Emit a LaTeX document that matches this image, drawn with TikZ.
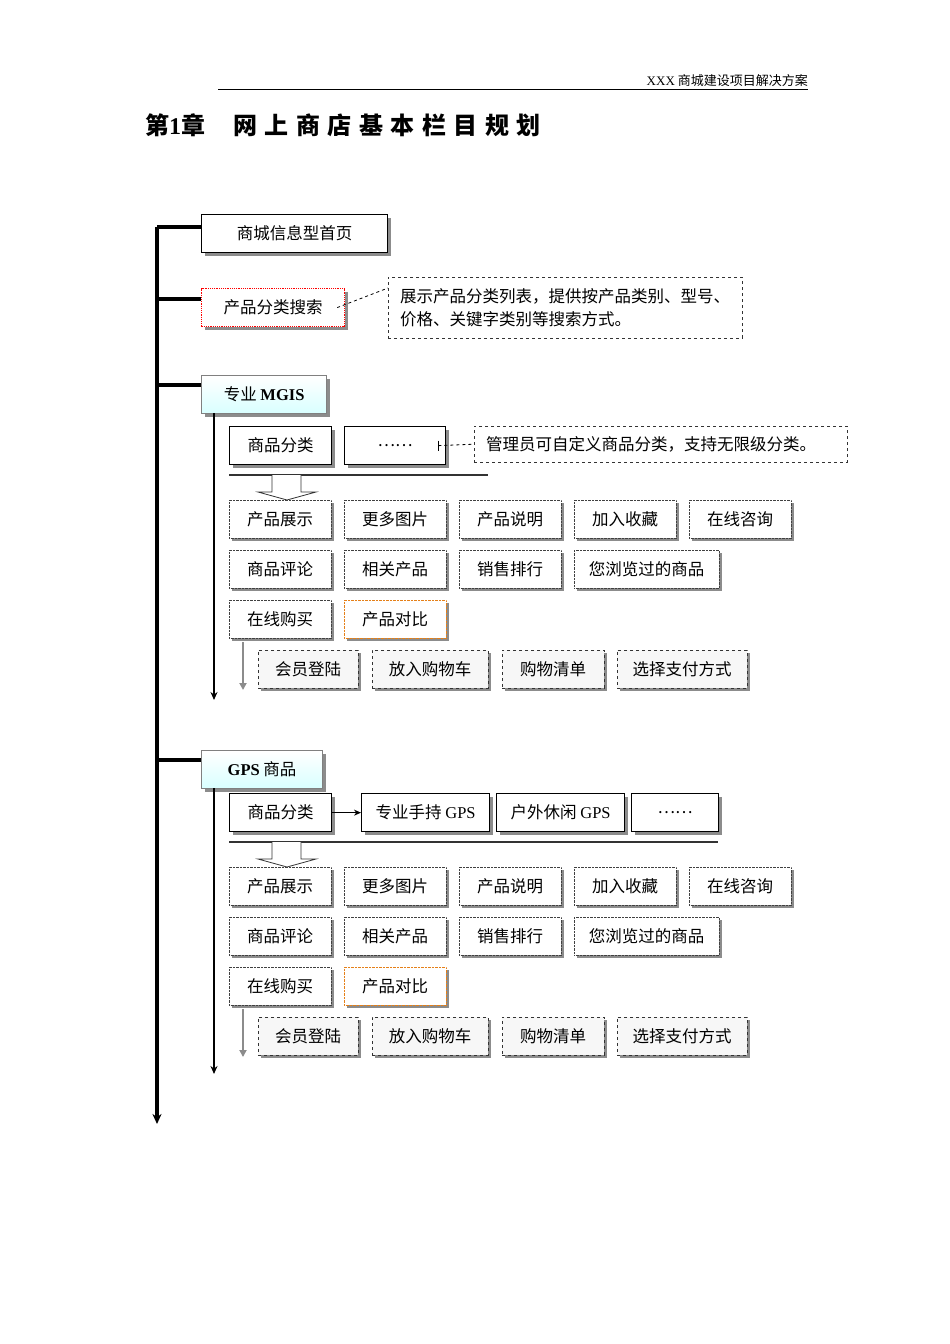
\documentclass[tikz,border=0pt]{standalone}
\usepackage{fontspec}
\setmainfont{Noto Sans CJK SC}
\newfontfamily\lat{Liberation Serif}
\usetikzlibrary{shadows,arrows.meta}
\tikzset{
 bx/.style={anchor=north west,draw,inner sep=0pt,font=\fontsize{16.5}{19}\selectfont,fill=white},
 sh/.style={drop shadow={shadow xshift=3pt,shadow yshift=-3pt,fill=black!45,opacity=1}},
 gbox/.style={bx,sh,densely dotted,draw=black!75,minimum height=38pt},
 pbox/.style={bx,sh,dashed,draw=black!80,fill=black!3,minimum height=38pt},
 sbox/.style={bx,sh,line width=1.3pt,minimum height=38pt},
 note/.style={bx,dashed,draw=black!80,align=left,font=\fontsize{16.5}{23}\selectfont},
 trunk/.style={line width=3.2pt},
 sub/.style={line width=2pt}
}
\newcommand\grid[3]{%
 \begin{scope}[yshift=-#2pt]
 \draw[line width=1.8pt,black!80] (229,475) coordinate (#1l0) -- (#3,475) coordinate (#1l1);
 \draw[black!80,line width=0.8pt,fill=white] (272,475)--(272,492)--(258,492)--(287,500)--(316,492)--(301,492)--(301,475);
 \foreach \x/\w/\t/\n in {229/102/产品展示/a1,344/102/更多图片/a2,459/102/产品说明/a3,574/102/加入收藏/a4,689/102/在线咨询/a5}
   \node[gbox,minimum width=\w pt] (#1\n) at (\x,500) {\t};
 \foreach \x/\w/\t/\n in {229/102/商品评论/b1,344/102/相关产品/b2,459/102/销售排行/b3,574/145/您浏览过的商品/b4}
   \node[gbox,minimum width=\w pt] (#1\n) at (\x,550) {\t};
 \node[gbox,minimum width=102pt] (#1c1) at (229,600) {在线购买};
 \node[gbox,minimum width=102pt,draw=orange!60!brown] (#1c2) at (344,600) {产品对比};
 \foreach \x/\w/\t/\n in {258/100/会员登陆/d1,372/116/放入购物车/d2,502/102/购物清单/d3,617/130/选择支付方式/d4}
   \node[pbox,minimum width=\w pt] (#1\n) at (\x,650) {\t};
 \coordinate (#1g0) at (243,642);
 \coordinate (#1g1) at (243,690);
 \draw[black!45,line width=1.8pt,-{Triangle[length=7pt,width=7pt]}] (#1g0) -- (#1g1);
 \end{scope}}
\begin{document}
\begin{tikzpicture}[x=1pt,y=-1pt]
\useasboundingbox[fill=white] (0,0) rectangle (950,1344);
% header
\draw[line width=0.8pt] (218,89) coordinate (h0) -- (808,89) coordinate (h1);
\node[anchor=base east,font=\fontsize{13}{15}\selectfont,inner sep=0pt] (hdr) at (808,85) {{\lat XXX} 商城建设项目解决方案};
\node[anchor=base west,font=\fontsize{24}{28}\selectfont\bfseries,inner sep=0pt] (title) at (145,134) {第{\lat 1}章\hspace{28pt}网\hspace{7.5pt}上\hspace{7.5pt}商\hspace{7.5pt}店\hspace{7.5pt}基\hspace{7.5pt}本\hspace{7.5pt}栏\hspace{7.5pt}目\hspace{7.5pt}规\hspace{7.5pt}划};
% trunk
\coordinate (t0) at (157,227);
\coordinate (t1) at (157,1124);
\draw[trunk,-{Stealth[length=10pt,width=9pt]}] (t0) -- (t1);
\node[sbox,minimum width=186pt] (home) at (201,214) {商城信息型首页};
\node[bx,sh,draw=red,densely dotted,line width=1.2pt,minimum width=143pt,minimum height=38pt] (search) at (201,288) {产品分类搜索};
\node[note,minimum width=344pt,minimum height=61pt,inner xsep=12pt,text width=330pt] (n1) at (388,277) {展示产品分类列表，提供按产品类别、型号、\\价格、关键字类别等搜索方式。};
\draw[dashed,line width=0.8pt] (search.east) ++(-8,0) coordinate (sx) -- (n1.west |- 0,288);
\node[bx,sh,draw=black!50,line width=1.2pt,top color=white,bottom color=cyan!15,minimum width=125pt,minimum height=38pt] (mgis) at (201,375) {专业 {\lat\bfseries MGIS}};
\node[bx,sh,draw=black!50,line width=1.2pt,top color=white,bottom color=cyan!15,minimum width=121pt,minimum height=38pt] (gps) at (201,750) {{\lat\bfseries GPS} 商品};
\foreach \n/\y in {home/227,search/299,mgis/385,gps/760} \draw[trunk] (\n.west |- 0,\y) -- (157,\y);
% MGIS section
\coordinate (m0) at (214,413);
\coordinate (m1) at (214,700);
\draw[sub,-{Stealth[length=8pt,width=7pt]}] (m0) -- (m1);
\node[sbox,minimum width=102pt] (mk) at (229,426) {商品分类};
\node[sbox,minimum width=101pt] (md) at (344,426) {……};
\node[note,minimum width=373pt,minimum height=36pt,inner xsep=12pt,text width=349pt] (n2) at (474,426) {管理员可自定义商品分类，支持无限级分类。};
\draw[dashed,line width=0.8pt] (md.east) ++(-8,0) coordinate (mx) -- (n2.west);
\draw[line width=0.8pt] (mx) ++(0,-5) -- ++(0,10);
\grid{m}{0}{488}
% GPS section
\coordinate (p0) at (214,788);
\coordinate (p1) at (214,1074);
\draw[sub,-{Stealth[length=8pt,width=7pt]}] (p0) -- (p1);
\node[sbox,minimum width=102pt] (pk) at (229,793) {商品分类};
\node[sbox,minimum width=128pt] (ph) at (361,793) {专业手持 {\lat GPS}};
\node[sbox,minimum width=128pt] (po) at (496,793) {户外休闲 {\lat GPS}};
\node[sbox,minimum width=87pt] (pd) at (631,793) {……};
\draw[line width=1pt,-{Stealth[length=7pt,width=6pt]}] (pk) -- (ph);
\grid{p}{367}{718}
\end{tikzpicture}
\end{document}
